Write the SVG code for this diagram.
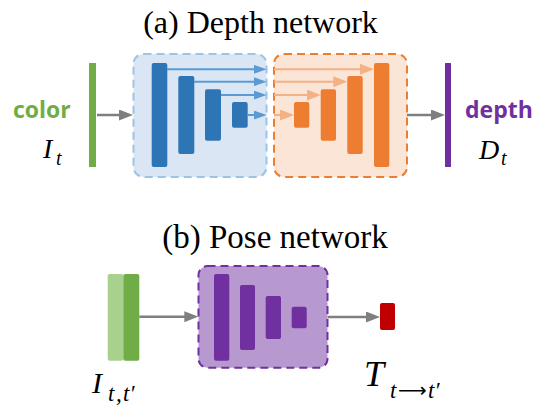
<svg xmlns="http://www.w3.org/2000/svg" width="546" height="410" viewBox="0 0 546 410">
<style>
.title{font-family:"Liberation Serif","Times New Roman",serif;font-size:32px;fill:#000}
.lab{font-family:"Open Sans","Liberation Sans",sans-serif;font-weight:bold;font-size:23px}
.math{font-family:"Liberation Serif","DejaVu Serif",serif;font-style:italic;fill:#000}
.gline{stroke:#7f7f7f;stroke-width:2.5;fill:none}
.bline{stroke:#5b9bd5;stroke-width:2;fill:none}
.oline{stroke:#f4b183;stroke-width:2;fill:none}
.bbar{fill:#2e75b6}
.obar{fill:#ed7d31}
.pbar{fill:#7030a0}
</style>
<defs>
<marker id="ag" markerUnits="userSpaceOnUse" markerWidth="14" markerHeight="11" refX="2" refY="5.5" orient="auto"><path d="M0,0 L14,5.5 L0,11 z" fill="#7f7f7f"/></marker>
<marker id="ab" markerUnits="userSpaceOnUse" markerWidth="13" markerHeight="9" refX="2" refY="4.5" orient="auto"><path d="M0,0 L13,4.5 L0,9 z" fill="#5b9bd5"/></marker>
<marker id="ao" markerUnits="userSpaceOnUse" markerWidth="14" markerHeight="11" refX="2" refY="5.5" orient="auto"><path d="M0,0 L14,5.5 L0,11 z" fill="#f4b183"/></marker>
</defs>

<text class="title" x="260.5" y="33" text-anchor="middle">(a) Depth network</text>
<text class="title" x="275" y="248" text-anchor="middle" style="font-size:33px">(b) Pose network</text>

<g id="input-color">
<rect x="89" y="63" width="7" height="104" fill="#70ad47"/>
<text class="lab" x="13" y="118" fill="#70ad47">color</text>
<text class="math" x="43" y="158" font-size="28">I</text>
<text class="math" x="56" y="165" font-size="20">t</text>
</g>

<g id="encoder">
<rect x="133.5" y="54" width="133" height="123" rx="10" fill="#dae6f4" stroke="#9dc3e6" stroke-width="2" stroke-dasharray="8 5"/>
<rect class="bbar" x="151.7" y="63" width="15.6" height="104" rx="2"/>
<rect class="bbar" x="178.3" y="76" width="16" height="78" rx="2"/>
<rect class="bbar" x="205" y="89.3" width="16" height="51.4" rx="2"/>
<rect class="bbar" x="232" y="102" width="15.7" height="25.7" rx="2"/>
</g>

<g id="decoder">
<rect x="274" y="54" width="133" height="123" rx="10" fill="#fbe5d6" stroke="#ed7d31" stroke-width="2" stroke-dasharray="8 5"/>
<rect class="obar" x="294" y="102" width="15.3" height="25.7" rx="2"/>
<rect class="obar" x="320.7" y="89.3" width="15.3" height="51.4" rx="2"/>
<rect class="obar" x="347.3" y="76" width="15.4" height="78" rx="2"/>
<rect class="obar" x="374" y="63" width="15.3" height="104" rx="2"/>
</g>

<g id="output-depth">
<rect x="445" y="63" width="6" height="104" fill="#7030a0"/>
<text class="lab" x="465" y="118" fill="#7030a0">depth</text>
<text class="math" x="479" y="159" font-size="28">D</text>
<text class="math" x="501" y="165" font-size="20">t</text>
</g>

<g id="input-pair">
<rect x="107.7" y="274" width="15.6" height="86.7" rx="2" fill="#a9d18e"/>
<rect x="123.3" y="274" width="16" height="86.7" rx="2" fill="#70ad47"/>
<text class="math" x="92" y="393" font-size="30">I</text>
<text class="math" font-size="23" y="401"><tspan x="108">t</tspan><tspan x="116">,</tspan><tspan x="123">t′</tspan></text>
</g>

<g id="pose-net">
<rect x="198.5" y="266" width="129" height="101.7" rx="9" fill="#b798cf" stroke="#7030a0" stroke-width="2" stroke-dasharray="8 5"/>
<rect class="pbar" x="214" y="274" width="15.3" height="86.7" rx="2"/>
<rect class="pbar" x="240" y="285" width="15" height="65" rx="2"/>
<rect class="pbar" x="265.7" y="296" width="15.3" height="43" rx="2"/>
<rect class="pbar" x="291.7" y="306.7" width="15" height="21.6" rx="2"/>
</g>

<g id="pose-output">
<rect x="380" y="303" width="15" height="27" rx="2" fill="#c00000"/>
<text class="math" x="364" y="386" font-size="36">T</text>
<text class="math" font-size="23" y="398"><tspan x="390">t</tspan><tspan x="398" y="397" font-style="normal" font-family="DejaVu Sans, sans-serif" font-size="20">⟶</tspan><tspan x="428" y="398">t′</tspan></text>
</g>

<g id="connectors">
<line class="gline" x1="97" y1="115" x2="121" y2="115" marker-end="url(#ag)"/>
<line class="gline" x1="407" y1="115" x2="433" y2="115" marker-end="url(#ag)"/>
<line class="bline" x1="167" y1="69.3" x2="255.7" y2="69.3" marker-end="url(#ab)"/>
<line class="bline" x1="194" y1="81.7" x2="255.7" y2="81.7" marker-end="url(#ab)"/>
<line class="bline" x1="221" y1="95" x2="255.7" y2="95" marker-end="url(#ab)"/>
<line class="bline" x1="247.5" y1="115" x2="255.7" y2="115" marker-end="url(#ab)"/>
<line class="oline" x1="274" y1="69.3" x2="362" y2="69.3" marker-end="url(#ao)"/>
<line class="oline" x1="274" y1="81.7" x2="335.3" y2="81.7" marker-end="url(#ao)"/>
<line class="oline" x1="274" y1="95" x2="308.7" y2="95" marker-end="url(#ao)"/>
<line class="oline" x1="274" y1="115" x2="282" y2="115" marker-end="url(#ao)"/>
<line class="gline" x1="139.3" y1="316.7" x2="186.3" y2="316.7" marker-end="url(#ag)"/>
<line class="gline" x1="327.7" y1="317" x2="368" y2="317" marker-end="url(#ag)"/>
</g>
</svg>
